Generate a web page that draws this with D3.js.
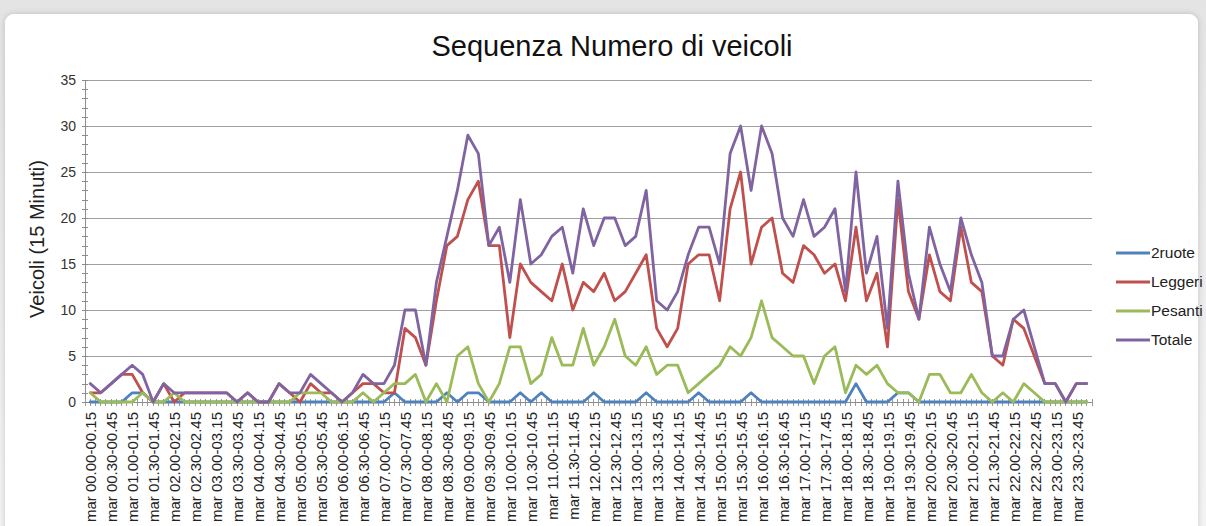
<!DOCTYPE html>
<html>
<head>
<meta charset="utf-8">
<script src="https://cdn.jsdelivr.net/npm/d3@7/dist/d3.min.js"></script>
<style>
    html, body { margin: 0; padding: 0; background: #efefef; }
    svg { display: block; }
</style>
</head>
<body>
<svg id="chart" width="1206" height="526"></svg>
<script>
// 96 slots of 15 minutes, "mar" = martedi
const pad2 = n => String(n).padStart(2, "0");
const fmtTime = m => `${pad2(Math.floor(m / 60))}.${pad2(m % 60)}`;
const slots = d3.range(96).map(i => `mar ${fmtTime(i * 15)}-${fmtTime(i * 15 + 15)}`);

const seriesNames = ["2ruote", "Leggeri", "Pesanti", "Totale"];
const seriesColors = ["#4f81bd", "#c0504d", "#9bbb59", "#8064a2"];

const dueRuote = [
    0, 0, 0, 0, 1, 1, 0, 0, 0, 0,
    0, 0, 0, 0, 0, 0, 0, 0, 0, 0,
    0, 0, 0, 0, 0, 0, 0, 0, 0, 1,
    0, 0, 0, 0, 1, 0, 1, 1, 0, 0,
    0, 1, 0, 1, 0, 0, 0, 0, 1, 0,
    0, 0, 0, 1, 0, 0, 0, 0, 1, 0,
    0, 0, 0, 1, 0, 0, 0, 0, 0, 0,
    0, 0, 0, 2, 0, 0, 0, 1, 1, 0,
    0, 0, 0, 0, 0, 0, 0, 0, 0, 0,
    0, 0, 0, 0, 0, 0
];
const leggeri = [
    1, 1, 2, 3, 3, 1, 0, 2, 0, 1,
    1, 1, 1, 1, 0, 1, 0, 0, 2, 1,
    0, 2, 1, 1, 0, 1, 2, 2, 1, 1,
    8, 7, 4, 11, 17, 18, 22, 24, 17, 17,
    7, 15, 13, 12, 11, 15, 10, 13, 12, 14,
    11, 12, 14, 16, 8, 6, 8, 15, 16, 16,
    11, 21, 25, 15, 19, 20, 14, 13, 17, 16,
    14, 15, 11, 19, 11, 14, 6, 22, 12, 9,
    16, 12, 11, 19, 13, 12, 5, 4, 9, 8,
    5, 2, 2, 0, 2, 2
];
const pesanti = [
    1, 0, 0, 0, 0, 1, 0, 0, 1, 0,
    0, 0, 0, 0, 0, 0, 0, 0, 0, 0,
    1, 1, 1, 0, 0, 0, 1, 0, 1, 2,
    2, 3, 0, 2, 0, 5, 6, 2, 0, 2,
    6, 6, 2, 3, 7, 4, 4, 8, 4, 6,
    9, 5, 4, 6, 3, 4, 4, 1, 2, 3,
    4, 6, 5, 7, 11, 7, 6, 5, 5, 2,
    5, 6, 1, 4, 3, 4, 2, 1, 1, 0,
    3, 3, 1, 1, 3, 1, 0, 1, 0, 2,
    1, 0, 0, 0, 0, 0
];
const totale = [
    2, 1, 2, 3, 4, 3, 0, 2, 1, 1,
    1, 1, 1, 1, 0, 1, 0, 0, 2, 1,
    1, 3, 2, 1, 0, 1, 3, 2, 2, 4,
    10, 10, 4, 13, 18, 23, 29, 27, 17, 19,
    13, 22, 15, 16, 18, 19, 14, 21, 17, 20,
    20, 17, 18, 23, 11, 10, 12, 16, 19, 19,
    15, 27, 30, 23, 30, 27, 20, 18, 22, 18,
    19, 21, 12, 25, 14, 18, 8, 24, 14, 9,
    19, 15, 12, 20, 16, 13, 5, 5, 9, 10,
    6, 2, 2, 0, 2, 2
];
const yTicks = [0, 5, 10, 15, 20, 25, 30, 35];

const seriesValues = [dueRuote, leggeri, pesanti, totale];

const svg = d3.select("#chart");
const W = 1206, H = 526;
const font = "'Liberation Sans', Arial, sans-serif";

// page background + card
const defs = svg.append("defs");
const bg = defs.append("linearGradient").attr("id", "bg").attr("x1", 0).attr("y1", 0).attr("x2", 0).attr("y2", 1);
bg.append("stop").attr("offset", "0%").attr("stop-color", "#e4e4e4");
bg.append("stop").attr("offset", "100%").attr("stop-color", "#f4f4f4");
const shadow = defs.append("filter").attr("id", "shadow")
    .attr("x", "-5%").attr("y", "-5%").attr("width", "110%").attr("height", "110%");
shadow.append("feDropShadow").attr("dx", 0).attr("dy", 0).attr("stdDeviation", 3)
    .attr("flood-color", "#000").attr("flood-opacity", 0.18);

svg.append("rect").attr("width", W).attr("height", H).attr("fill", "url(#bg)");
svg.append("rect")
    .attr("x", 5).attr("y", 14).attr("width", 1193).attr("height", 540).attr("rx", 9)
    .attr("fill", "#ffffff").attr("filter", "url(#shadow)");

// scales
const x = d3.scalePoint().domain(d3.range(slots.length)).range([85, 1092]).padding(0.5);
const y = d3.scaleLinear().domain([0, 35]).range([402, 80]);
const x0 = 85, x1 = 1092;

// gridlines
svg.append("g").selectAll("line")
    .data(yTicks.filter(t => t > 0))
    .join("line")
    .attr("x1", x0).attr("x2", x1)
    .attr("y1", d => y(d)).attr("y2", d => y(d))
    .attr("stroke", "#a0a0a0").attr("stroke-width", 1)
    .attr("shape-rendering", "crispEdges");

// y axis: line, cross ticks every unit, labels every 5
const yAxis = d3.axisLeft(y).tickValues(d3.range(0, 36)).tickSize(3).tickFormat("");
const gy = svg.append("g").attr("transform", `translate(${x0},0)`).call(yAxis);
gy.select(".domain").attr("stroke", "#8c8c8c");
gy.selectAll(".tick line").attr("x2", -3).attr("x1", 3).attr("stroke", "#8c8c8c");
gy.selectAll("path, line").attr("shape-rendering", "crispEdges");

svg.append("g").selectAll("text")
    .data(yTicks)
    .join("text")
    .attr("x", 76).attr("y", d => y(d))
    .attr("dy", "0.35em")
    .attr("text-anchor", "end")
    .style("font-family", font).style("font-size", "14px").style("fill", "#333")
    .text(d => d);

// x axis: line + cross ticks at each half category
const half = x.step() / 2;
svg.append("g").selectAll("line")
    .data(d3.range(slots.length * 2 + 1))
    .join("line")
    .attr("x1", k => x0 + k * half).attr("x2", k => x0 + k * half)
    .attr("y1", y(0) - 3).attr("y2", y(0) + 4)
    .attr("stroke", "#9a9a9a").attr("stroke-width", 1)
    .attr("shape-rendering", "crispEdges");
svg.append("line")
    .attr("x1", x0).attr("x2", x1).attr("y1", y(0)).attr("y2", y(0))
    .attr("stroke", "#8c8c8c").attr("shape-rendering", "crispEdges");

svg.append("g").selectAll("text")
    .data(slots.map((s, i) => ({ s, i })).filter(d => d.i % 2 === 0))
    .join("text")
    .attr("transform", d => `translate(${x(d.i) + 1},412) rotate(-90)`)
    .attr("dy", "0.35em")
    .attr("text-anchor", "end")
    .style("font-family", font).style("font-size", "15px").style("fill", "#222")
    .text(d => d.s);

// series lines
const line = d3.line().x((d, i) => x(i)).y(d => y(d));
svg.append("g").selectAll("path")
    .data(seriesValues)
    .join("path")
    .attr("d", line)
    .attr("fill", "none")
    .attr("stroke", (d, i) => seriesColors[i])
    .attr("stroke-width", 2.8)
    .attr("stroke-linejoin", "round")
    .attr("stroke-linecap", "round");

// title
svg.append("text")
    .attr("x", 612).attr("y", 56)
    .attr("text-anchor", "middle")
    .style("font-family", font).style("font-size", "29px").style("fill", "#111")
    .text("Sequenza Numero di veicoli");

// y axis title
svg.append("text")
    .attr("transform", "translate(44,239) rotate(-90)")
    .attr("text-anchor", "middle")
    .style("font-family", font).style("font-size", "20px").style("fill", "#222")
    .text("Veicoli (15 Minuti)");

// legend
const legend = svg.append("g").selectAll("g")
    .data(seriesNames)
    .join("g")
    .attr("transform", (d, i) => `translate(1116,${253 + i * 29})`);
legend.append("line")
    .attr("x1", 0).attr("x2", 34)
    .attr("stroke", (d, i) => seriesColors[i]).attr("stroke-width", 2.8);
legend.append("text")
    .attr("x", 35).attr("dy", "0.35em")
    .style("font-family", font).style("font-size", "15.5px").style("fill", "#222")
    .text(d => d);
</script>
</body>
</html>
